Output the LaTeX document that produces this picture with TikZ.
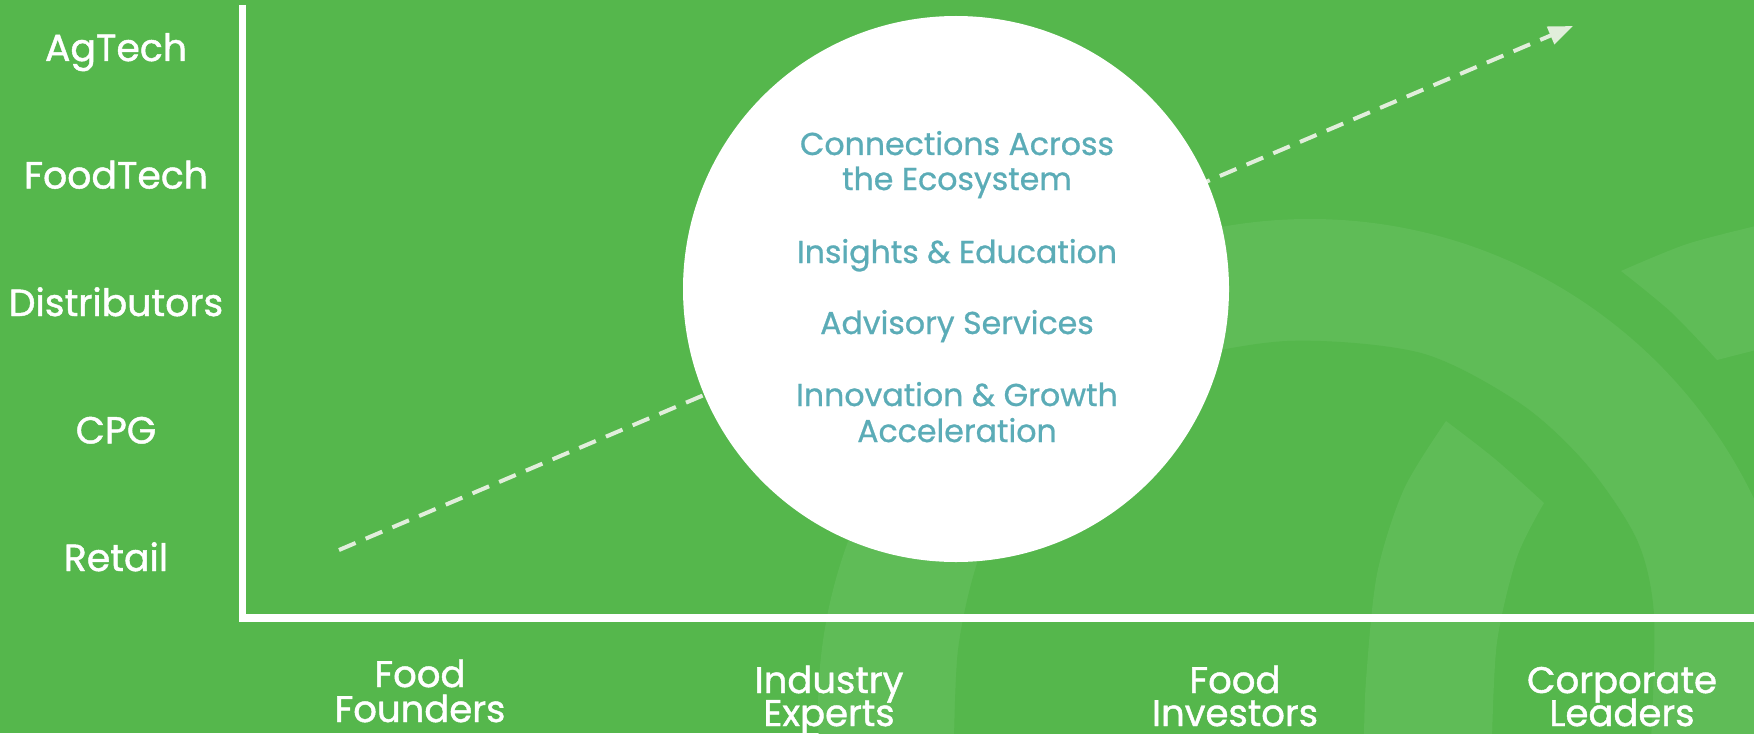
\documentclass[tikz,border=0pt]{standalone}
\usepackage{fontspec}
\setmainfont{Poppins}
\newfontface\labelface{Poppins}[FakeBold=1.2]
\newfontface\hubface{Poppins}[FakeBold=0.8]
\usetikzlibrary{arrows.meta}
\definecolor{bggreen}{RGB}{85,183,76}
\definecolor{arcgreen}{RGB}{95,188,87}
\definecolor{tealtext}{RGB}{91,172,183}
\definecolor{arrowcol}{RGB}{225,238,219}
\begin{document}
\begin{tikzpicture}[x=0.5pt,y=-0.5pt,
  sidelabel/.style={text=white, font=\labelface\fontsize{18.9}{20}\selectfont, anchor=base, inner sep=0pt},
  bottomlabel/.style={text=white, font=\labelface\fontsize{18.5}{20}\selectfont, anchor=base, inner sep=0pt},
  hubtext/.style={text=tealtext, font=\hubface\fontsize{15.8}{18}\selectfont, anchor=base, inner sep=0pt},
  axisline/.style={white, line width=3.6pt},
  trendline/.style={arrowcol, line width=2pt, dash pattern=on 9pt off 5.5pt, -{Triangle[length=12.2pt,width=9.2pt]}}
]
\fill[bggreen] (0,0) rectangle (1754,733);
\useasboundingbox (0,0) rectangle (1754,733);
% background logo arcs
\begin{scope}
  \clip (0,0) rectangle (1754,733);
  \fill[arcgreen] (1310,711) circle[radius=246pt];
  \fill[bggreen] plot[smooth] coordinates {(954,740) (958,650) (975,570) (1010,480) (1080,410) (1160,365) (1287,341) (1421,353) (1521,404) (1587,465) (1637,540) (1654,615) (1651,740)} -- (1651,760) -- (954,760) -- cycle;
  \fill[arcgreen] plot[smooth] coordinates {(1364,740) (1366,680) (1377,574) (1404,489) (1446,421)} -- plot[smooth] coordinates {(1446,421) (1495,459) (1544,503)} -- plot[smooth] coordinates {(1544,503) (1517,557) (1497,642) (1492,740)} -- cycle;
  \fill[arcgreen] plot[smooth] coordinates {(1760,225) (1687,244) (1621,271)} -- plot[smooth] coordinates {(1621,271) (1671,312) (1717,360)} -- (1760,349) -- cycle;
\end{scope}
% trend arrow
\coordinate (astart) at (339,550);
\coordinate (aend) at (1573,26);
\draw[trendline] (astart) -- (aend);
% axes
\coordinate (ytop) at (242.5,5);
\coordinate (origin) at (242.5,618);
\coordinate (xend) at (1754,618);
\draw[axisline] (ytop) -- (origin) -- (xend);
% hub circle
\node[circle, fill=white, minimum size=273pt, inner sep=0pt] (hub) at (956,289) {};
\node[hubtext] (h1a) at (957,155) {Connections Across};
\node[hubtext] (h1b) at (957,190) {the Ecosystem};
\node[hubtext] (h2) at (957,263) {Insights \& Education};
\node[hubtext] (h3) at (957,334) {Advisory Services};
\node[hubtext] (h4a) at (957,406) {Innovation \& Growth};
\node[hubtext] (h4b) at (957,442) {Acceleration};
% side labels
\node[sidelabel] (agtech) at (116,61) {AgTech};
\node[sidelabel] (foodtech) at (116,188.5) {FoodTech};
\node[sidelabel] (distrib) at (116,316) {Distributors};
\node[sidelabel] (cpg) at (116,443.5) {CPG};
\node[sidelabel] (retail) at (116,571) {Retail};
% bottom labels
\node[bottomlabel] (ff1) at (420,687) {Food};
\node[bottomlabel] (ff2) at (420,722) {Founders};
\node[bottomlabel] (ie1) at (829,693) {Industry};
\node[bottomlabel] (ie2) at (829,726) {Experts};
\node[bottomlabel] (fi1) at (1235,693) {Food};
\node[bottomlabel] (fi2) at (1235,726) {Investors};
\node[bottomlabel] (cl1) at (1622,693) {Corporate};
\node[bottomlabel] (cl2) at (1622,726) {Leaders};
\end{tikzpicture}
\end{document}
